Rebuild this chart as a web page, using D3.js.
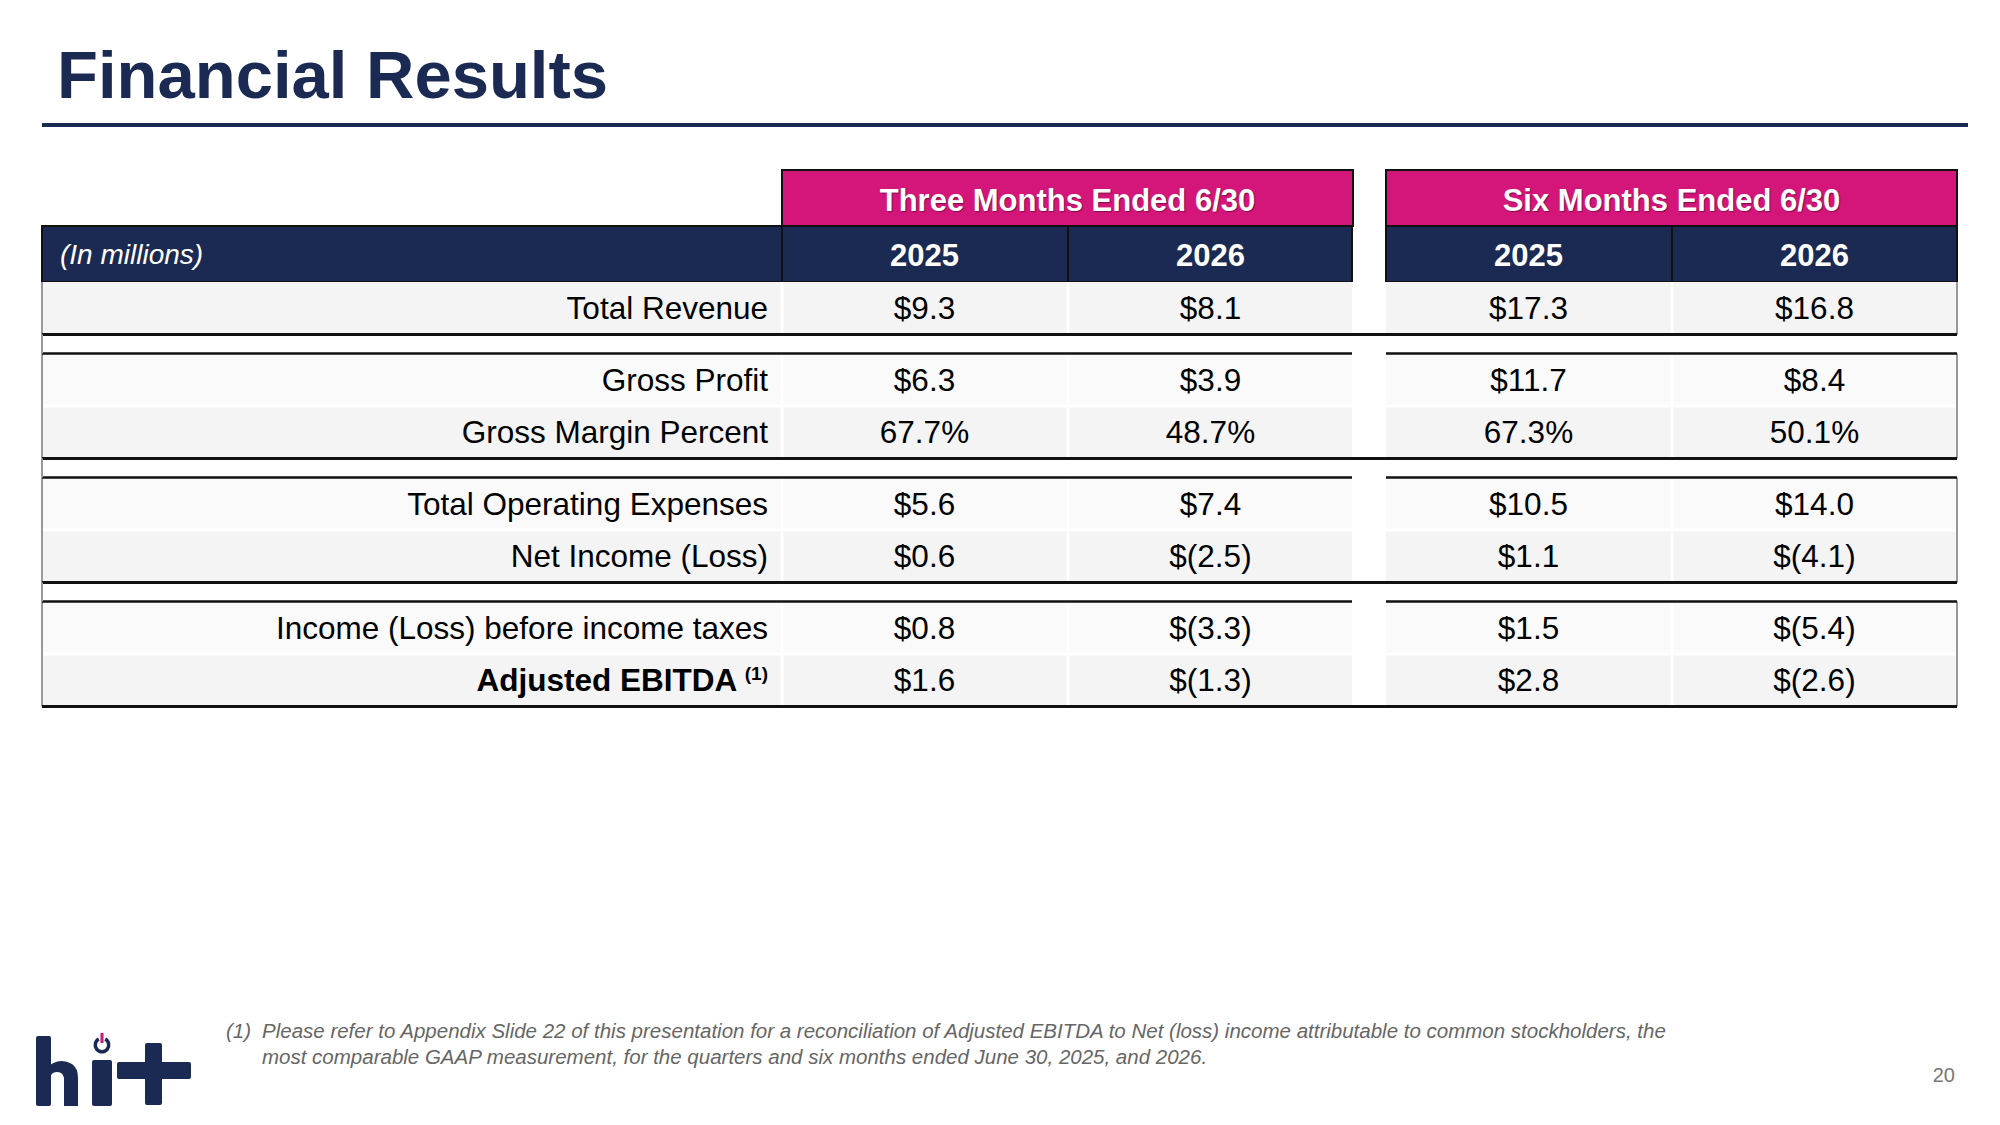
<!DOCTYPE html>
<html><head><meta charset="utf-8">
<script src="https://cdn.jsdelivr.net/npm/d3@7"></script>
<style>body{margin:0;background:#fff}svg{display:block;font-family:"Liberation Sans",Arial,sans-serif}</style>
</head><body><svg id="c" width="2000" height="1125"></svg>
<script>
// table content
var periods = ["Three Months Ended 6/30", "Six Months Ended 6/30"];
var years = ["2025", "2026", "2025", "2026"];
var rowLabels = ["Total Revenue", "Gross Profit", "Gross Margin Percent", "Total Operating Expenses",
  "Net Income (Loss)", "Income (Loss) before income taxes", "Adjusted EBITDA"];
var rowGroup = [0, 1, 1, 2, 2, 3, 3];   // rows separated by a gap between groups
var q2025 = ["$9.3", "$6.3", "67.7%", "$5.6", "$0.6", "$0.8", "$1.6"];
var q2026 = ["$8.1", "$3.9", "48.7%", "$7.4", "$(2.5)", "$(3.3)", "$(1.3)"];
var h2025 = ["$17.3", "$11.7", "67.3%", "$10.5", "$1.1", "$1.5", "$2.8"];
var h2026 = ["$16.8", "$8.4", "50.1%", "$14.0", "$(4.1)", "$(5.4)", "$(2.6)"];
var cols = [q2025, q2026, h2025, h2026];

var navy = "#1b2a52", pink = "#d4157a";
var svg = d3.select("#c");

svg.append("text").attr("x", 57).attr("y", 98).attr("fill", navy)
  .attr("font-size", 67).attr("font-weight", "bold").text("Financial Results");
svg.append("rect").attr("x", 42).attr("y", 123).attr("width", 1926).attr("height", 4).attr("fill", navy);

// column geometry
var colLeft = [782, 1068, 1386, 1672], colW = 285;
var x = d3.scaleOrdinal().domain(d3.range(4)).range(colLeft.map(function(d){ return d + colW / 2; }));
var blockX = [782, 1386], blockW = 571, left = 42, labelRight = 768;

// row geometry
var rowH = 52.5, gapH = 19, top0 = 282;
var rowY = [], yy = top0;
rowGroup.forEach(function(g, i) {
  if (i > 0 && g !== rowGroup[i - 1]) yy += gapH;
  rowY.push(yy); yy += rowH;
});
var y = d3.scaleOrdinal().domain(d3.range(7)).range(rowY);

// pink period headers
svg.selectAll(".ph").data(periods).join("rect")
  .attr("x", function(d, i){ return blockX[i]; }).attr("y", 170).attr("width", blockW).attr("height", 56)
  .attr("fill", pink).attr("stroke", "#111").attr("stroke-width", 2);
svg.selectAll(".pt").data(periods).join("text")
  .attr("x", function(d, i){ return blockX[i] + blockW / 2; }).attr("y", 211)
  .attr("text-anchor", "middle").attr("fill", "#fff").attr("font-size", 31).attr("font-weight", "bold")
  .style("text-shadow", "1px 1px 1px rgba(0,0,0,0.4)").text(function(d){ return d; });

// navy year header
svg.append("rect").attr("x", left).attr("y", 226).attr("width", 1352 - left).attr("height", 56)
  .attr("fill", navy).attr("stroke", "#111").attr("stroke-width", 2);
svg.append("rect").attr("x", 1386).attr("y", 226).attr("width", blockW).attr("height", 56)
  .attr("fill", navy).attr("stroke", "#111").attr("stroke-width", 2);
[782, 1068, 1672].forEach(function(v) {
  svg.append("line").attr("x1", v).attr("x2", v).attr("y1", 226).attr("y2", 282).attr("stroke", "#111").attr("stroke-width", 2);
});
svg.append("text").attr("x", 60).attr("y", 264).attr("fill", "#fff").attr("font-size", 28)
  .attr("font-style", "italic").text("(In millions)");
svg.selectAll(".yr").data(years).join("text")
  .attr("x", function(d, i){ return x(i); }).attr("y", 266).attr("text-anchor", "middle")
  .attr("fill", "#fff").attr("font-size", 31).attr("font-weight", "bold").text(function(d){ return d; });

// body rows
var rows = svg.selectAll(".row").data(rowLabels).join("g")
  .attr("transform", function(d, i){ return "translate(0," + y(i) + ")"; });
rows.append("rect").attr("x", left).attr("width", 1957 - left).attr("height", rowH)
  .attr("fill", function(d, i){ return i % 2 ? "#fafafa" : "#f4f4f4"; });
rows.append("rect").attr("x", 1352).attr("width", 34).attr("height", rowH).attr("fill", "#fff");
rows.each(function(d, i) {
  var g = d3.select(this);
  [782, 1068, 1672].forEach(function(v) {
    g.append("line").attr("x1", v).attr("x2", v).attr("y1", 0).attr("y2", rowH).attr("stroke", "#fff").attr("stroke-width", 3);
  });
  if (i > 0 && rowGroup[i] === rowGroup[i - 1])
    g.append("line").attr("x1", left).attr("x2", 1957).attr("y1", 0).attr("y2", 0).attr("stroke", "#fff").attr("stroke-width", 3);
  var t = g.append("text").attr("x", labelRight).attr("y", rowH / 2 + 11).attr("text-anchor", "end")
    .attr("font-size", 31.5).attr("fill", "#000");
  if (d === "Adjusted EBITDA") {
    t.attr("font-weight", "bold").text(d + " ");
    t.append("tspan").attr("font-size", 19).attr("dy", -11).text("(1)");
  } else t.text(d);
  cols.forEach(function(c, j) {
    g.append("text").attr("x", x(j)).attr("y", rowH / 2 + 11).attr("text-anchor", "middle")
      .attr("font-size", 31.5).attr("fill", "#000").text(c[i]);
  });
});

// group borders
var groups = d3.groups(d3.range(7), function(i){ return rowGroup[i]; });
groups.forEach(function(gr, k) {
  var idx = gr[1], yTop = y(idx[0]), yBot = y(idx[idx.length - 1]) + rowH;
  svg.append("line").attr("x1", left).attr("x2", left).attr("y1", yTop).attr("y2", yBot).attr("stroke", "#999").attr("stroke-width", 2);
  svg.append("line").attr("x1", 1957).attr("x2", 1957).attr("y1", yTop).attr("y2", yBot).attr("stroke", "#999").attr("stroke-width", 2);
  svg.append("line").attr("x1", left).attr("x2", 1957).attr("y1", yBot).attr("y2", yBot).attr("stroke", "#111").attr("stroke-width", 3);
  if (k > 0) {
    svg.append("line").attr("x1", left).attr("x2", 1352).attr("y1", yTop).attr("y2", yTop).attr("stroke", "#111").attr("stroke-width", 2.5);
    svg.append("line").attr("x1", 1386).attr("x2", 1957).attr("y1", yTop).attr("y2", yTop).attr("stroke", "#111").attr("stroke-width", 2.5);
    svg.append("line").attr("x1", left).attr("x2", left).attr("y1", yTop - gapH).attr("y2", yTop).attr("stroke", "#999").attr("stroke-width", 2);
  }
});

// footnote
var foot = svg.append("g").attr("fill", "#666").attr("font-size", 20.5).attr("font-style", "italic");
foot.append("text").attr("x", 226).attr("y", 1038).text("(1)");
foot.append("text").attr("x", 262).attr("y", 1038)
  .text("Please refer to Appendix Slide 22 of this presentation for a reconciliation of Adjusted EBITDA to Net (loss) income attributable to common stockholders, the");
foot.append("text").attr("x", 262).attr("y", 1064)
  .text("most comparable GAAP measurement, for the quarters and six months ended June 30, 2025, and 2026.");
svg.append("text").attr("x", 1955).attr("y", 1082).attr("text-anchor", "end").attr("fill", "#777").attr("font-size", 20).text("20");

// logo
var logo = svg.append("g").attr("fill", navy);
logo.append("rect").attr("x", 36).attr("y", 1036).attr("width", 15).attr("height", 70).attr("rx", 2);
logo.append("path").attr("d", "M44,1070 Q58,1056 72,1064 Q78,1068 78,1078 L78,1106 L64,1106 L64,1080 Q64,1072 57,1072 Q50,1072 50,1080 Z");
logo.append("rect").attr("x", 92).attr("y", 1060).attr("width", 20).attr("height", 46).attr("rx", 2);
logo.append("rect").attr("x", 145).attr("y", 1043).attr("width", 17).attr("height", 62).attr("rx", 2);
logo.append("rect").attr("x", 117).attr("y", 1062).attr("width", 74).attr("height", 17).attr("rx", 2);
logo.append("path").attr("d", d3.arc()({innerRadius: 5, outerRadius: 8.5, startAngle: 0.5, endAngle: 2 * Math.PI - 0.5}))
  .attr("transform", "translate(102,1045)");
svg.append("rect").attr("x", 100.5).attr("y", 1033).attr("width", 3).attr("height", 10).attr("fill", pink);
</script></body></html>
